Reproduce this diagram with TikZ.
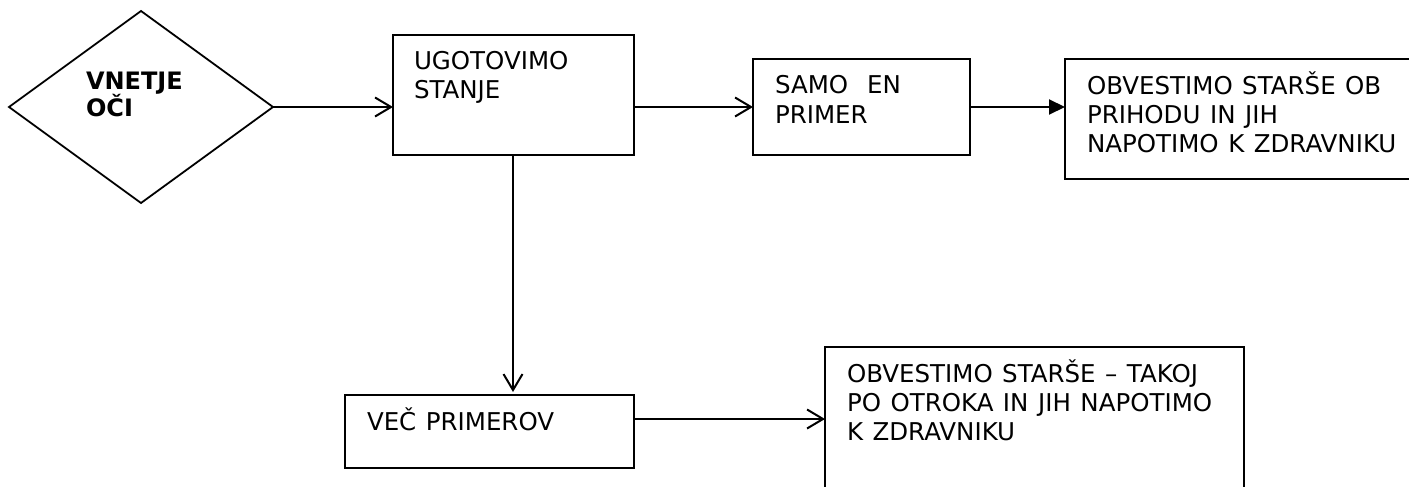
\documentclass[tikz,border=0pt]{standalone}
\usepackage{fontspec}
\setmainfont{DejaVu Sans}
\usetikzlibrary{arrows.meta,shapes.geometric}
\newcommand\mywidesp{\spaceskip 9.5pt\relax}
\begin{document}
\begin{tikzpicture}[x=1pt,y=-1pt,
  box/.style={draw,line width=2pt,rectangle,inner sep=0pt,outer sep=0pt,anchor=north west},
  txt/.style={anchor=base west,align=left,inner sep=0pt,outer sep=0pt,font=\fontsize{24.5}{29}\selectfont\mywidesp},
  con/.style={line width=2pt},
  open/.style={con,-{Straight Barb[length=16pt,width=19pt,line width=2pt]}},
  solid/.style={con,-{Triangle[length=16pt,width=15pt]}}]
\useasboundingbox (0,0) rectangle (1409,487);
\clip (0,0) rectangle (1409,487);
% diamond
\node[draw,line width=1.8pt,diamond,inner sep=0pt,outer sep=0pt,minimum width=264pt,minimum height=192pt,aspect=1.375] (d) at (141,107) {};
\node[txt,font=\fontsize{24}{28}\selectfont\bfseries] (dt) at (86,117) {VNETJE\\OČI};
% boxes
\node[box,minimum width=241pt,minimum height=120pt] (b1) at (393,35) {};
\node[txt] (t1) at (414,99) {UGOTOVIMO\\STANJE};
\node[box,minimum width=217pt,minimum height=96pt] (b2) at (753,59) {};
\node[txt] (t2) at (775,123) {SAMO\ \ EN\\PRIMER};
\node[box,minimum width=370pt,minimum height=120pt] (b3) at (1065,59) {};
\node[txt] (t3) at (1087,152) {OBVESTIMO STARŠE OB\\PRIHODU IN JIH\\NAPOTIMO K ZDRAVNIKU};
\node[box,minimum width=289pt,minimum height=73pt] (b4) at (345,395) {};
\node[txt] (t4) at (367,430) {VEČ PRIMEROV};
\node[box,minimum width=419pt,minimum height=160pt] (b5) at (825,347) {};
\node[txt] (t5) at (847,440) {OBVESTIMO STARŠE – TAKOJ\\PO OTROKA IN JIH NAPOTIMO\\K ZDRAVNIKU};
% connectors
\coordinate (yb) at (0,419);
\coordinate (xv) at (513,0);
\draw[open] (d.east) -- (d.east -| b1.west);
\draw[open] (b2.west -| b1.east) -- (b2.west);
\draw[solid] (b2.east) -- (b2.east -| b3.west);
\draw[open,shorten >=3pt] (xv |- b1.south) -- (xv |- b4.north);
\draw[open] (b4.east |- yb) -- (b5.west |- yb);
\end{tikzpicture}
\end{document}
